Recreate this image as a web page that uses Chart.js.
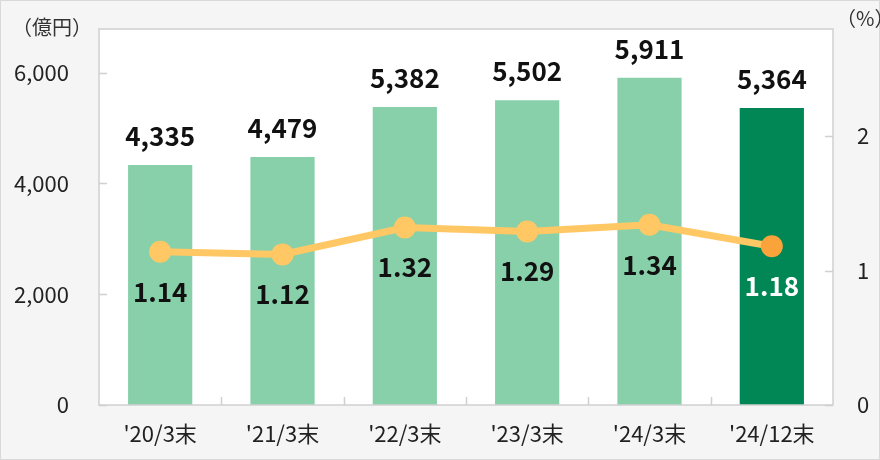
<!DOCTYPE html>
<html>
<head>
<meta charset="utf-8">
<script src="https://cdn.jsdelivr.net/npm/chart.js@4/dist/chart.umd.min.js"></script>
<style>
  html, body { margin: 0; padding: 0; background: #f5f5f5; }
  #wrap { position: relative; width: 878px; height: 458px; border: 1px solid #d9d9d9; }
  .unit { position: absolute; font-family: "Noto Sans CJK JP", sans-serif; font-size: 20px; color: #333; }
</style>
</head>
<body>
<div id="wrap">
  <canvas id="chart" width="878" height="458"></canvas>
  <div class="unit" style="left:11px; top:11px;">（億円）</div>
  <div class="unit" style="left:835px; top:2px;">（%）</div>
</div>
<script>
// 残高（億円）と比率（%）
var categories = ["'20/3末", "'21/3末", "'22/3末", "'23/3末", "'24/3末", "'24/12末"];
var amount = [4335, 4479, 5382, 5502, 5911, 5364];
var ratio = [1.14, 1.12, 1.32, 1.29, 1.34, 1.18];
var leftTicks = [0, 2000, 4000, 6000];
var rightTicks = [0, 1, 2];

var barColors = ['#88d0aa', '#88d0aa', '#88d0aa', '#88d0aa', '#88d0aa', '#008755'];
var pointColors = ['#ffc864', '#ffc864', '#ffc864', '#ffc864', '#ffc864', '#f9a33a'];
var FONT = '"Noto Sans CJK JP", "Noto Sans", sans-serif';

// 背景・枠線・目盛り
var framePlugin = {
  id: 'frame',
  beforeDraw: function(chart) {
    var c = chart.ctx, a = chart.chartArea;
    c.save();
    c.fillStyle = '#ffffff';
    c.fillRect(a.left, a.top, a.right - a.left, a.bottom - a.top);
    c.restore();
  },
  afterDatasetsDraw: function(chart) {
    var c = chart.ctx, a = chart.chartArea;
    var y = chart.scales.y, y1 = chart.scales.y1;
    c.save();
    c.strokeStyle = '#d0d0d0';
    c.lineWidth = 1.5;
    c.strokeRect(a.left, a.top, a.right - a.left, a.bottom - a.top);
    c.beginPath();
    leftTicks.forEach(function(v) {
      var py = Math.round(y.getPixelForValue(v)) + 0.5;
      c.moveTo(a.left, py); c.lineTo(a.left + 8, py);
    });
    rightTicks.forEach(function(v) {
      var py = Math.round(y1.getPixelForValue(v)) + 0.5;
      c.moveTo(a.right, py); c.lineTo(a.right - 8, py);
    });
    var w = (a.right - a.left) / categories.length;
    for (var i = 1; i < categories.length; i++) {
      var px = Math.round(a.left + w * i) + 0.5;
      c.moveTo(px, a.bottom); c.lineTo(px, a.bottom - 8);
    }
    c.stroke();

    // 軸ラベル
    c.fillStyle = '#222';
    c.font = '22px ' + FONT;
    c.textBaseline = 'middle';
    c.textAlign = 'right';
    leftTicks.forEach(function(v) {
      c.fillText(v.toLocaleString('en-US'), 68, y.getPixelForValue(v));
    });
    c.textAlign = 'left';
    rightTicks.forEach(function(v) {
      c.fillText(String(v), 856, y1.getPixelForValue(v));
    });
    c.restore();
  }
};

// 数値ラベル
var labelPlugin = {
  id: 'labels',
  afterDraw: function(chart) {
    var c = chart.ctx;
    c.save();
    c.font = 'bold 26px ' + FONT;
    c.textAlign = 'center';
    c.textBaseline = 'middle';
    chart.getDatasetMeta(1).data.forEach(function(el, i) {
      c.fillStyle = '#111111';
      c.fillText(amount[i].toLocaleString('en-US'), el.x, el.y - 29);
    });
    chart.getDatasetMeta(0).data.forEach(function(el, i) {
      c.fillStyle = i === categories.length - 1 ? '#ffffff' : '#111111';
      c.fillText(ratio[i].toFixed(2), el.x, el.y + 40);
    });
    c.restore();
  }
};

function noPad(s) { s.paddingTop = 0; s.paddingBottom = 0; }

new Chart(document.getElementById('chart'), {
  data: {
    labels: categories,
    datasets: [{
      type: 'line',
      label: '比率',
      data: ratio,
      yAxisID: 'y1',
      borderColor: '#ffc864',
      borderWidth: 7,
      pointRadius: 11,
      pointHoverRadius: 11,
      pointBackgroundColor: pointColors,
      pointBorderWidth: 0,
      order: 0
    }, {
      type: 'bar',
      label: '残高',
      data: amount,
      yAxisID: 'y',
      backgroundColor: barColors,
      categoryPercentage: 1,
      barPercentage: 0.525,
      order: 1
    }]
  },
  options: {
    responsive: false,
    animation: false,
    layout: { padding: { top: 28, left: 0, right: 0, bottom: 0 } },
    plugins: { legend: { display: false }, tooltip: { enabled: false } },
    scales: {
      x: {
        grid: { display: false },
        border: { display: false },
        ticks: { color: '#222', font: { family: FONT, size: 22 }, padding: 7, maxRotation: 0 },
        afterFit: function(s) { s.height = 54; s.paddingLeft = 0; s.paddingRight = 0; }
      },
      y: {
        position: 'left',
        min: 0,
        max: 6790,
        afterBuildTicks: function(s) { s.ticks = leftTicks.map(function(v) { return { value: v }; }); },
        grid: { display: false },
        border: { display: false },
        ticks: { display: false },
        afterFit: function(s) { s.width = 98; noPad(s); }
      },
      y1: {
        position: 'right',
        min: 0,
        max: 2.796,
        afterBuildTicks: function(s) { s.ticks = rightTicks.map(function(v) { return { value: v }; }); },
        grid: { display: false },
        border: { display: false },
        ticks: { display: false },
        afterFit: function(s) { s.width = 46; noPad(s); }
      }
    }
  },
  plugins: [framePlugin, labelPlugin]
});
</script>
</body>
</html>
